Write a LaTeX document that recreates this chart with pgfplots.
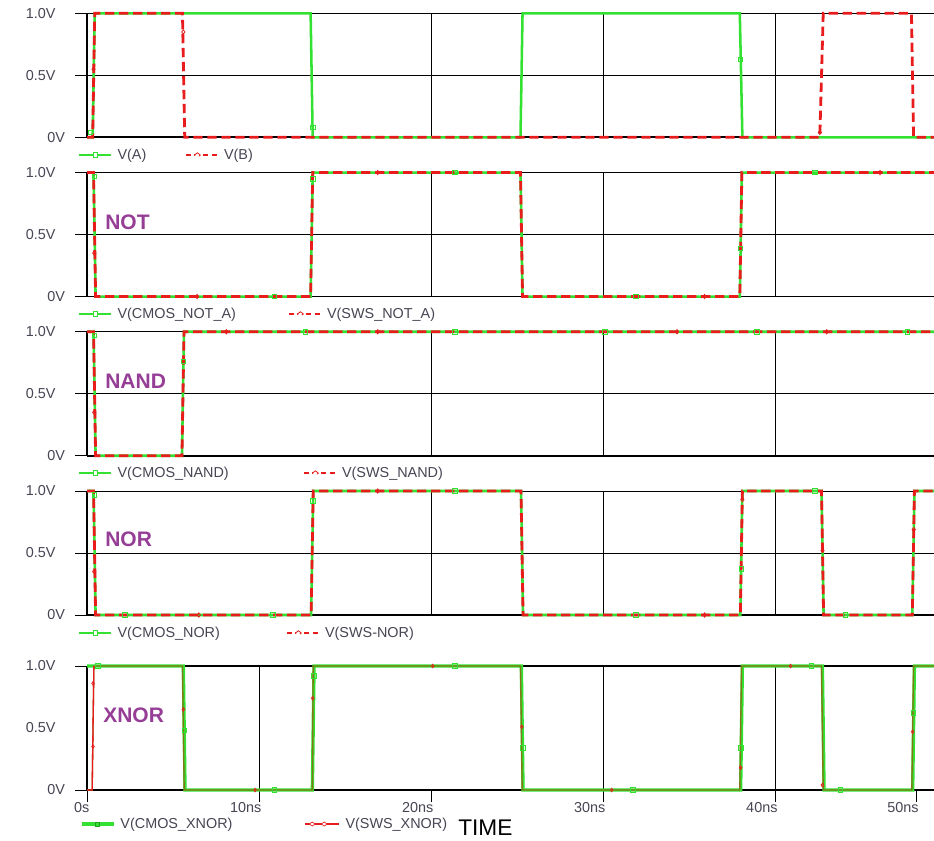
\documentclass[border=0pt]{standalone}
\usepackage{pgfplots}
\pgfplotsset{compat=1.18}
\usepackage{fontspec}
\setmainfont{Liberation Sans}
\definecolor{tg}{RGB}{50,225,50}
\definecolor{tr}{RGB}{232,28,28}
\definecolor{olv}{RGB}{130,118,22}
\definecolor{pur}{RGB}{150,62,150}
\definecolor{tk}{RGB}{70,70,84}
\newcommand\tf{\fontsize{10.8}{12}\selectfont}
\tikzset{pname/.style={anchor=west, inner sep=0pt, font=\fontsize{15.75}{18}\selectfont\bfseries, text=pur}}
\pgfplotsset{
  panel/.style={
    scale only axis, width=635.25pt, height=93pt,
    xmin=0, xmax=49.24, ymin=0, ymax=1, clip=false,
    axis x line*=bottom, axis y line*=left,
    axis line style={black, line width=0.8pt},
    x axis line style={line width=1.4pt},
    ytick={0,0.5,1}, yticklabels={{0V\kern-20.5pt},{0.5V\kern-9.2pt},{1.0V\kern-9.2pt}},
    tick align=outside, major tick length=9pt,
    tick style={black, line width=0.75pt},
    ymajorgrids, xmajorgrids,
    major grid style={black, line width=0.75pt},
    xtick={20,30,40}, xticklabels={},
    xtick style={draw=none},
    ticklabel style={font=\tf, text=tk},
    yticklabel style={anchor=east, inner sep=0pt},
    yticklabel shift=23.6pt,
    legend style={draw=none, fill=none, inner sep=0pt, outer sep=0pt, anchor=west,
      at={(0,0)}, xshift=-6.75pt, font=\tf, text=tk, nodes={inner sep=0pt},
      /tikz/every odd column/.style={column sep=3.75pt}},
    legend columns=2, legend cell align=left,
  },
  gl/.style={tg, line width=1.9pt, no marks,
    legend image code/.code={\draw[tg, line width=1.9pt] (0pt,0pt) -- (24pt,0pt);
      \draw[tg, line width=0.6pt, fill=white] (10.3pt,-1.8pt) rectangle (13.7pt,1.8pt);}},
  rl/.style={tr, line width=2.1pt, dash pattern=on 7pt off 3.5pt, no marks,
    legend image code/.code={\draw[tr, line width=1.9pt, dash pattern=on 4pt off 2.5pt] (0pt,0pt) -- (24pt,0pt);
      \draw[tr, line width=0.6pt, fill=white] (6.5pt,0pt) -- (8.7pt,1.7pt) -- (10.9pt,0pt) -- (8.7pt,-1.7pt) -- cycle;}},
  gm/.style={only marks, mark=square, mark size=1.7pt, tg, mark options={line width=0.6pt, fill=white}, forget plot},
  rm/.style={only marks, mark=diamond, mark size=1.6pt, tr, mark options={line width=0.6pt, fill=white}, forget plot},
}
\begin{document}
\begin{tikzpicture}
\useasboundingbox (0,0) rectangle (700.5pt,-630pt);
\fill[white] (0,0) rectangle (700.5pt,-630pt);

% ---------- Panel 1: inputs
\begin{axis}[panel, at={(65.25pt,-103pt)}, anchor=south west, legend style={yshift=-13.3pt}]
\addplot[gl] coordinates {(0,0) (0.33,0) (0.45,1) (13.0,1) (13.12,0) (25.2,0) (25.32,1) (37.95,1) (38.1,0) (50,0)};
\addplot[rl] coordinates {(0,0) (0.33,0) (0.45,1) (5.55,1) (5.68,0) (42.6,0) (42.8,1) (47.93,1) (48.05,0) (50,0)};
\addplot[gm] coordinates {(0.2,0.04) (13.12,0.08) (37.98,0.63)};
\addplot[rm] coordinates {(0.38,0.55) (5.6,0.85) (42.6,0.04)};
\legend{\makebox[50.25pt][l]{V(A)}, V(B)}
\end{axis}

% ---------- Panel 2: NOT
\begin{axis}[panel, at={(65.25pt,-222.4pt)}, anchor=south west, legend style={yshift=-13.1pt}]
\addplot[gl] coordinates {(0,1) (0.38,1) (0.5,0) (13.0,0) (13.12,1) (25.2,1) (25.32,0) (37.95,0) (38.07,1) (50,1)};
\addplot[rl] coordinates {(0,1) (0.38,1) (0.5,0) (13.0,0) (13.12,1) (25.2,1) (25.32,0) (37.95,0) (38.07,1) (50,1)};
\addplot[gm] coordinates {(0.44,0.97) (10.9,0) (13.12,0.95) (21.4,1) (31.9,0) (37.99,0.39) (42.3,1)};
\addplot[rm] coordinates {(0.42,0.35) (6.4,0) (16.9,1) (35.9,0) (46.1,1)};
\node[pname] at (axis cs:1.05,0.6) {NOT};
\legend{\makebox[127.5pt][l]{V(CMOS\_NOT\_A)}, V(SWS\_NOT\_A)}
\end{axis}

% ---------- Panel 3: NAND
\begin{axis}[panel, at={(65.25pt,-341.8pt)}, anchor=south west, legend style={yshift=-13pt}]
\addplot[gl] coordinates {(0,1) (0.38,1) (0.5,0) (5.52,0) (5.64,1) (50,1)};
\addplot[rl] coordinates {(0,1) (0.38,1) (0.5,0) (5.52,0) (5.64,1) (50,1)};
\addplot[gm] coordinates {(0.44,0.97) (5.6,0.76) (12.7,1) (21.4,1) (30.1,1) (38.95,1) (47.7,1)};
\addplot[rm] coordinates {(0.42,0.35) (8.1,1) (16.9,1) (34.3,1) (43.0,1)};
\node[pname] at (axis cs:1.05,0.6) {NAND};
\legend{\makebox[138.75pt][l]{V(CMOS\_NAND)}, V(SWS\_NAND)}
\end{axis}

% ---------- Panel 4: NOR
\begin{axis}[panel, at={(65.25pt,-461.25pt)}, anchor=south west, legend style={yshift=-13.5pt}]
\addplot[gl] coordinates {(0,1) (0.38,1) (0.5,0) (13.03,0) (13.15,1) (25.23,1) (25.35,0) (37.98,0) (38.1,1) (42.7,1) (42.82,0) (47.98,0) (48.1,1) (50,1)};
\addplot[rl] coordinates {(0,1) (0.38,1) (0.5,0) (13.03,0) (13.15,1) (25.23,1) (25.35,0) (37.98,0) (38.1,1) (42.7,1) (42.82,0) (47.98,0) (48.1,1) (50,1)};
\addplot[gm] coordinates {(0.44,0.97) (2.2,0) (10.8,0) (13.14,0.92) (21.4,1) (31.9,0) (38.03,0.37) (42.3,1) (44.1,0)};
\addplot[rm] coordinates {(0.42,0.35) (6.5,0) (16.9,1) (35.9,0) (38.1,0.93) (42.76,0.52) (48.06,0.69)};
\node[pname] at (axis cs:1.05,0.61) {NOR};
\legend{\makebox[126pt][l]{V(CMOS\_NOR)}, V(SWS-NOR)}
\end{axis}

% ---------- Panel 5: XNOR
\begin{axis}[panel, at={(65.25pt,-592.5pt)}, anchor=south west,
  ytick={0,1}, yticklabels={{0V\kern-20.5pt},{1.0V\kern-9.2pt}},
  extra y ticks={0.5}, extra y tick labels={{0.5V\kern-9.2pt}},
  extra y tick style={grid=none, tick style={draw=none}},
  major y grid style={black, line width=1.4pt},
  xtick={0,10,30,40}, xticklabels={0s,10ns,30ns,40ns},
  xtick style={draw=black},
  extra x ticks={20,48.2}, extra x tick labels={20ns,50ns},
  extra x tick style={grid=none, tick style={draw=none}},
  xticklabel style={anchor=north east, inner sep=0pt, xshift=2pt},
  legend style={yshift=-25.5pt, xshift=1.5pt}]
\addplot[tg, line width=2.5pt, no marks,
  legend image code/.code={\draw[tg, line width=2.6pt] (0pt,0pt) -- (24pt,0pt);
    \draw[tg!70!black, line width=0.5pt] (10.5pt,-1.6pt) rectangle (13.5pt,1.6pt);}]
  coordinates {(0,1) (5.6,1) (5.7,0) (13.1,0) (13.2,1) (25.25,1) (25.35,0) (38.0,0) (38.1,1) (42.75,1) (42.85,0) (48.0,0) (48.1,1) (50,1)};
\addplot[olv, line width=1pt, no marks,
  legend image code/.code={\draw[tr, line width=1.8pt] (0pt,0pt) -- (26pt,0pt);
    \draw[tr, line width=0.5pt, fill=white] (3.5pt,0pt) -- (5.7pt,1.5pt) -- (7.9pt,0pt) -- (5.7pt,-1.5pt) -- cycle;
    \draw[tr, line width=0.5pt, fill=white] (12.5pt,0pt) -- (14.7pt,1.5pt) -- (16.9pt,0pt) -- (14.7pt,-1.5pt) -- cycle;}]
  coordinates {(0,0) (0.3,0) (0.4,1) (5.55,1) (5.65,0) (13.1,0) (13.15,1) (25.2,1) (25.3,0) (37.95,0) (38.05,1) (42.7,1) (42.8,0) (47.95,0) (48.05,1) (50,1)};
\addplot[tr, line width=1pt, no marks, forget plot] coordinates {(0,0) (0.3,0) (0.4,1)};
\addplot[gm] coordinates {(0.62,1) (5.65,0.48) (10.9,0) (13.2,0.92) (21.4,1) (25.35,0.34) (31.75,0) (38.0,0.34) (42.1,1) (43.8,0) (48.05,0.62)};
\addplot[rm, mark size=1.3pt] coordinates {(0.35,0.86) (0.35,0.35) (5.6,0.65) (9.77,0) (13.12,0.74) (20.1,1) (25.28,0.51) (30.5,0) (38.0,0.18) (40.9,1) (42.75,0.04) (48.0,0.47)};
\node[pname] at (axis cs:0.93,0.605) {XNOR};
\legend{\makebox[137.25pt][l]{V(CMOS\_XNOR)}, V(SWS\_XNOR)}
\end{axis}

\node[font=\fontsize{17}{20}\selectfont, text=black] at (364pt,-621pt) {TIME};
\end{tikzpicture}
\end{document}
